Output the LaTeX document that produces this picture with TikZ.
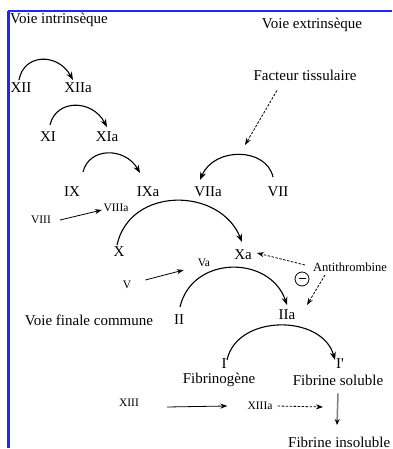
\documentclass[tikz,border=0pt]{standalone}
\usepackage{fontspec}
\setmainfont{Liberation Serif}
\usetikzlibrary{arrows.meta}
\definecolor{bordblue}{RGB}{30,40,250}
\tikzset{
  lbl/.style={inner sep=0pt, font=\fontsize{15}{17}\selectfont},
  sml/.style={inner sep=0pt, font=\fontsize{11.5}{13}\selectfont},
  arc/.style={line width=1.1pt, -{Stealth[length=8pt,width=6pt]}},
  sarr/.style={line width=0.8pt, -{Stealth[length=7pt,width=5pt]}},
  darr/.style={line width=0.8pt, dash pattern=on 2.5pt off 1.5pt, -{Stealth[length=7pt,width=5pt]}},
}
\begin{document}
\begin{tikzpicture}[x=1pt,y=1pt]
\useasboundingbox (0,0) rectangle (392,449);
% border
\draw[bordblue, line width=1.6pt] (8,438) -- (392,438);
\draw[bordblue, line width=2.4pt] (8.5,438) -- (8.5,1);
% titles
\node[lbl, anchor=west] (intr) at (10,429) {Voie intrinsèque};
\node[lbl] (extr) at (312,424) {Voie extrinsèque};
\node[lbl] (ft) at (305,374) {Facteur tissulaire};
% factors
\node[lbl] (XII) at (21,361) {XII};
\node[lbl] (XIIa) at (78,361) {XIIa};
\node[lbl] (XI) at (48,312) {XI};
\node[lbl] (XIa) at (107,312) {XIa};
\node[lbl] (IX) at (72,257) {IX};
\node[lbl] (IXa) at (148,257) {IXa};
\node[lbl] (VIIa) at (208,257) {VIIa};
\node[lbl] (VII) at (278,257) {VII};
\node[sml] (VIII) at (41,229) {VIII};
\node[sml] (VIIIa) at (116,241) {VIIIa};
\node[lbl] (X) at (119,197) {X};
\node[lbl] (Xa) at (243,194) {Xa};
\node[sml] (V) at (127,164) {V};
\node[sml] (Va) at (204,186) {Va};
\node[sml, font=\fontsize{12.5}{14}\selectfont, anchor=west] (anti) at (313,182) {Antithrombine};
\node[draw, circle, line width=0.8pt, minimum size=14pt, inner sep=0pt] (minus) at (302,170) {};
\draw[line width=1pt] ([xshift=-3.5pt]minus.center) -- ([xshift=3.5pt]minus.center);
\node[lbl] (vfc) at (89,129) {Voie finale commune};
\node[lbl] (II) at (179,129) {II};
\node[lbl] (IIa) at (287,134) {IIa};
\node[lbl] (I) at (224,85) {I};
\node[lbl] (Ip) at (340,85) {I\textquotesingle};
\node[lbl] (fg) at (219,69) {Fibrinogène};
\node[lbl] (fs) at (338,69) {Fibrine soluble};
\node[sml] (XIII) at (129,46) {XIII};
\node[sml] (XIIIa) at (260,43) {XIIIa};
\node[lbl, anchor=east] (fi) at (390.5,7) {Fibrine insoluble};
% arcs
\coordinate (c1s) at (19,369); \coordinate (c1e) at (73,369);
\draw[arc] (c1s) .. controls (24,396) and (58,396) .. (c1e);
\coordinate (c2s) at (50,324); \coordinate (c2e) at (107,322);
\draw[arc] (c2s) .. controls (56,350) and (92,350) .. (c2e);
\coordinate (c3s) at (83,277); \coordinate (c3e) at (140,276);
\draw[arc] (c3s) .. controls (89,302) and (125,302) .. (c3e);
\coordinate (c4s) at (273,272); \coordinate (c4e) at (200,269);
\draw[arc] (c4s) .. controls (266,302) and (214,302) .. (c4e);
\coordinate (c5s) at (117,204); \coordinate (c5e) at (242,207);
\draw[arc] (c5s) .. controls (130,263) and (220,262) .. (c5e);
\coordinate (c6s) at (180,142); \coordinate (c6e) at (287,144);
\draw[arc] (c6s) .. controls (192,194) and (270,194) .. (c6e);
\coordinate (c7s) at (227,89); \coordinate (c7e) at (335,89);
\draw[arc] (c7s) .. controls (237,135) and (322,135) .. (c7e);
% straight arrows
\draw[sarr] ([xshift=9pt]VIII.east) -- ([xshift=-1.5pt,yshift=-2pt]VIIIa.west);
\draw[sarr] ([xshift=14pt,yshift=5pt]V.east) -- ([xshift=-14pt,yshift=-7pt]Va.west);
\draw[darr] ([xshift=-28pt,yshift=-10pt]ft.south) -- (245,304);
\draw[darr] ([xshift=-8pt,yshift=2pt]anti.west) -- ([xshift=5pt,yshift=2pt]Xa.east);
\draw[darr] ([xshift=12pt,yshift=-8pt]anti.west) -- ([xshift=20pt,yshift=10pt]IIa.center);
\draw[sarr] ([xshift=28pt,yshift=-4pt]XIII.east) -- ([xshift=-20pt]XIIIa.west);
\draw[darr] ([xshift=5pt]XIIIa.east) -- ([xshift=-15pt,yshift=-27pt]fs.center);
\draw[line width=1.5pt, gray, -{Stealth[length=6pt,width=5pt,black]}] ([yshift=-8pt]fs.south) -- (337,24);
\end{tikzpicture}
\end{document}
